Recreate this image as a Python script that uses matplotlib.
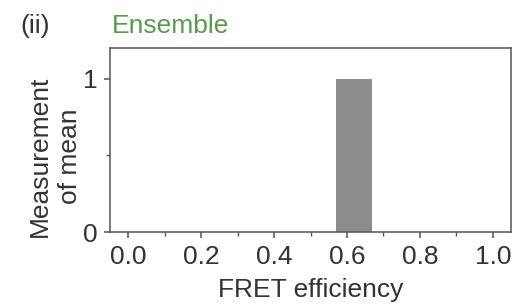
import matplotlib
matplotlib.use('Agg')
import matplotlib.pyplot as plt
from matplotlib.ticker import MultipleLocator

plt.rcParams['font.family'] = 'Liberation Sans'

# data: one histogram bin of mean FRET efficiency
bin_left = [0.57]
bin_width = [0.10]
counts = [1]
x_ticks = [0.0, 0.2, 0.4, 0.6, 0.8, 1.0]
x_labels = ['0.0', '0.2', '0.4', '0.6', '0.8', '1.0']
y_ticks = [0, 1]
y_labels = ['0', '1']

fig = plt.figure(figsize=(5.13, 3.06), dpi=100)
ax = fig.add_axes([110 / 513, 1 - 232 / 306, 401 / 513, 184 / 306])

ax.bar(bin_left, counts, width=bin_width, align='edge', color='#8c8c8c', edgecolor='none')

ax.set_xlim(-0.05, 1.05)
ax.set_ylim(0, 1.2)
ax.set_xticks(x_ticks)
ax.set_xticklabels(x_labels)
ax.set_yticks(y_ticks)
ax.set_yticklabels(y_labels)
ax.xaxis.set_minor_locator(MultipleLocator(0.1))
ax.yaxis.set_minor_locator(MultipleLocator(0.5))

for s in ax.spines.values():
    s.set_color('#555555')
    s.set_linewidth(1.1)
ax.tick_params(axis='both', which='major', labelsize=19, length=4, width=1.1,
               color='#555555', pad=5, labelcolor='#333333')
ax.tick_params(axis='both', which='minor', length=3, width=1, color='#555555')

ax.set_xlabel('FRET efficiency', fontsize=19, color='#333333', labelpad=7)
ax.set_ylabel('Measurement\nof mean', fontsize=19, color='#333333', linespacing=1.3)
ax.yaxis.set_label_coords(-0.07, 0.41)

fig.text(20 / 513, 1 - 33 / 306, '(ii)', fontsize=19, color='#333333')
fig.text(112 / 513, 1 - 33 / 306, 'Ensemble', fontsize=19, color='#5a9a4e')

fig.savefig('out.png', dpi=100)
